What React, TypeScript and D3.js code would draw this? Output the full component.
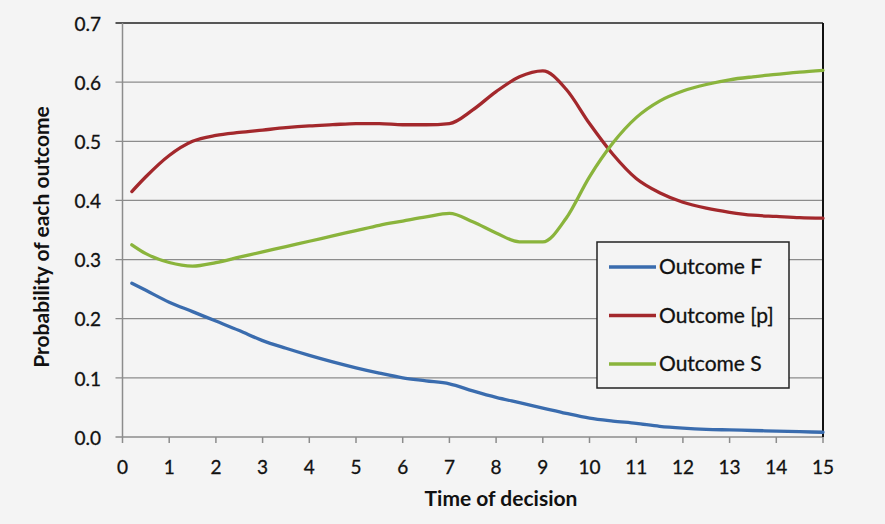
import React, { useEffect, useRef } from "react";
import * as d3 from "d3";

const times = [0.2, 0.5, 1, 1.5, 2, 2.5, 3, 3.5, 4, 4.5, 5, 5.5, 6, 6.5, 7, 7.5, 8, 8.5, 9, 9.5, 10, 10.5, 11, 11.5, 12, 12.5, 13, 13.5, 14, 14.5, 15];
const outcomeF = [0.26, 0.248, 0.228, 0.212, 0.196, 0.18, 0.163, 0.15, 0.138, 0.127, 0.117, 0.108, 0.1, 0.095, 0.09, 0.078, 0.067, 0.058, 0.049, 0.04, 0.032, 0.027, 0.023, 0.018, 0.015, 0.013, 0.012, 0.011, 0.01, 0.009, 0.008];
const outcomeP = [0.415, 0.44, 0.476, 0.5, 0.51, 0.515, 0.519, 0.523, 0.526, 0.528, 0.53, 0.53, 0.528, 0.528, 0.53, 0.553, 0.584, 0.609, 0.619, 0.588, 0.53, 0.478, 0.437, 0.413, 0.397, 0.387, 0.38, 0.375, 0.373, 0.371, 0.37];
const outcomeS = [0.325, 0.31, 0.295, 0.289, 0.295, 0.304, 0.313, 0.322, 0.331, 0.34, 0.349, 0.358, 0.365, 0.372, 0.378, 0.364, 0.345, 0.33, 0.33, 0.37, 0.44, 0.497, 0.54, 0.568, 0.585, 0.596, 0.604, 0.609, 0.613, 0.617, 0.62];
const seriesNames = ["Outcome F", "Outcome [p]", "Outcome S"];
const seriesColors = ["#3a6cae", "#a3282c", "#8ab43c"];
const xTicks = d3.range(0, 16);
const yTicks = [0, 0.1, 0.2, 0.3, 0.4, 0.5, 0.6, 0.7];

export default function App() {
  const ref = useRef<SVGSVGElement>(null);
  useEffect(() => {
    const svg = d3.select(ref.current);
    svg.selectAll("*").remove();
    const W = 885, H = 524;
    const left = 122.5, right = 823, top = 23, bottom = 437;
    const font = "Lato, 'Open Sans', sans-serif";
    svg.append("rect").attr("width", W).attr("height", H).attr("fill", "#f4f4f4");
    const x = d3.scaleLinear().domain([0, 15]).range([left, right]);
    const y = d3.scaleLinear().domain([0, 0.7]).range([bottom, top]);

    // gridlines
    svg.append("g").selectAll("line").data(yTicks).join("line")
      .attr("x1", left - 7).attr("x2", right)
      .attr("y1", d => y(d)).attr("y2", d => y(d))
      .attr("stroke", d => (d === 0.7 ? "#222" : "#8c8c8c"))
      .attr("stroke-width", d => (d === 0.7 ? 1.6 : 1.3));
    // left axis
    svg.append("line").attr("x1", left).attr("x2", left).attr("y1", top).attr("y2", bottom)
      .attr("stroke", "#8c8c8c").attr("stroke-width", 1.5);
    // right border
    svg.append("line").attr("x1", right).attr("x2", right).attr("y1", top).attr("y2", bottom)
      .attr("stroke", "#111").attr("stroke-width", 2);
    // x ticks
    svg.append("g").selectAll("line").data(xTicks).join("line")
      .attr("x1", d => x(d)).attr("x2", d => x(d))
      .attr("y1", bottom).attr("y2", bottom + 6)
      .attr("stroke", "#8c8c8c").attr("stroke-width", 1.5);

    // y tick labels
    svg.append("g").selectAll("text").data(yTicks).join("text")
      .attr("x", 101).attr("y", d => y(d) + 1).attr("dy", "0.35em")
      .attr("text-anchor", "end").attr("font-family", font).attr("font-size", 19)
      .attr("fill", "#111").attr("stroke", "#111").attr("stroke-width", 0.3)
      .text(d => d3.format(".1f")(d));
    // x tick labels
    svg.append("g").selectAll("text").data(xTicks).join("text")
      .attr("x", d => x(d)).attr("y", 467).attr("dy", "0.35em")
      .attr("text-anchor", "middle").attr("font-family", font).attr("font-size", 19)
      .attr("fill", "#111").attr("stroke", "#111").attr("stroke-width", 0.3)
      .text(d => String(d));

    // axis titles
    svg.append("text").attr("x", 501).attr("y", 499).attr("dy", "0.35em")
      .attr("text-anchor", "middle").attr("font-family", font).attr("font-weight", "bold")
      .attr("font-size", 21).attr("fill", "#111").text("Time of decision");
    svg.append("text").attr("transform", "translate(42,237) rotate(-90)").attr("dy", "0.35em")
      .attr("text-anchor", "middle").attr("font-family", font).attr("font-weight", "bold")
      .attr("font-size", 21).attr("fill", "#111").text("Probability of each outcome");

    // lines
    const allSeries = [outcomeF, outcomeP, outcomeS];
    const line = d3.line<number>().x((_, i) => x(times[i])).y(d => y(d)).curve(d3.curveMonotoneX);
    allSeries.forEach((s, k) => {
      svg.append("path").datum(s).attr("d", line).attr("fill", "none")
        .attr("stroke", seriesColors[k]).attr("stroke-width", 3.3)
        .attr("stroke-linejoin", "round").attr("stroke-linecap", "round");
    });

    // legend
    const lg = svg.append("g");
    lg.append("rect").attr("x", 597).attr("y", 242).attr("width", 192).attr("height", 146)
      .attr("fill", "#f4f4f4").attr("stroke", "#222").attr("stroke-width", 1.5);
    seriesNames.forEach((n, k) => {
      const yy = 267 + k * 48.5;
      lg.append("line").attr("x1", 609).attr("x2", 656).attr("y1", yy).attr("y2", yy)
        .attr("stroke", seriesColors[k]).attr("stroke-width", 3.3);
      lg.append("text").attr("x", 659).attr("y", yy).attr("dy", "0.35em")
        .attr("font-family", font).attr("font-size", 21).attr("fill", "#111")
        .attr("stroke", "#111").attr("stroke-width", 0.3).text(n);
    });
  }, []);
  return (
    <svg ref={ref} width={885} height={524} style={{ position: "absolute", left: 0, top: 0 }} />
  );
}
